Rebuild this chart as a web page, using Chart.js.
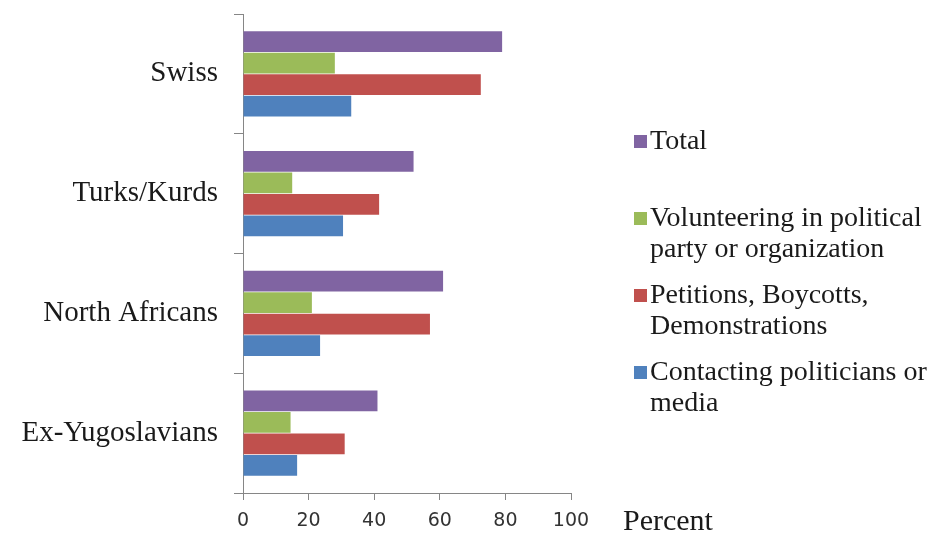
<!DOCTYPE html>
<html>
<head>
<meta charset="utf-8">
<script src="https://cdn.jsdelivr.net/npm/chart.js@4"></script>
<style>
  body { margin: 0; background: #fff; }
  canvas { display: block; }
</style>
</head>
<body>
<canvas id="chart" width="932" height="537"></canvas>
<script>
const categories = ['Swiss', 'Turks/Kurds', 'North Africans', 'Ex-Yugoslavians'];

const total        = [79, 52, 61, 41];
const volunteering = [28, 15, 21, 14.5];
const petitions    = [72.5, 41.5, 57, 31];
const contacting   = [33, 30.5, 23.5, 16.5];

const xTicks = [0, 20, 40, 60, 80, 100];

const seriesNames = [
    ['Total'],
    ['Volunteering in political', 'party or organization'],
    ['Petitions, Boycotts,', 'Demonstrations'],
    ['Contacting politicians or', 'media']
];
const xTitle = 'Percent';

const serif = '"Liberation Serif", "Times New Roman", serif';
const axisColor = '#868686';

// legend and axis title are drawn by hand so the legend can wrap like the original
const extrasPlugin = {
    id: 'extras',
    afterDraw(chart) {
        const ctx = chart.ctx;
        ctx.save();
        ctx.textBaseline = 'middle';
        ctx.textAlign = 'left';

        // axis title to the right of the last tick
        ctx.font = '30px ' + serif;
        ctx.fillStyle = '#1a1a1a';
        ctx.fillText(xTitle, 623, 522);

        ctx.font = '28px ' + serif;
        chart.data.datasets.forEach((ds, i) => {
            const y0 = 142 + i * 77;
            ctx.fillStyle = ds.backgroundColor;
            ctx.fillRect(634, y0 - 7, 13, 13);
            ctx.fillStyle = '#1a1a1a';
            seriesNames[i].forEach((line, j) => {
                ctx.fillText(line, 650, y0 + j * 31);
            });
        });
        ctx.restore();
    }
};

const ctx = document.getElementById('chart').getContext('2d');

new Chart(ctx, {
    type: 'bar',
    data: {
        labels: categories,
        datasets: [
            { label: seriesNames[0].join(' '), data: total,        backgroundColor: '#8064A2' },
            { label: seriesNames[1].join(' '), data: volunteering, backgroundColor: '#9BBB59' },
            { label: seriesNames[2].join(' '), data: petitions,    backgroundColor: '#C0504D' },
            { label: seriesNames[3].join(' '), data: contacting,   backgroundColor: '#4F81BD' }
        ]
    },
    options: {
        indexAxis: 'y',
        responsive: false,
        animation: false,
        datasets: {
            bar: {
                categoryPercentage: 0.72,
                barPercentage: 0.96
            }
        },
        layout: {
            padding: { top: 14, right: 361, bottom: 0, left: 0 }
        },
        plugins: {
            legend: { display: false },
            tooltip: { enabled: false }
        },
        scales: {
            x: {
                min: 0,
                max: 100,
                afterBuildTicks: scale => {
                    scale.ticks = xTicks.map(v => ({ value: v }));
                },
                afterFit: scale => {
                    scale.height = 44;
                    scale.paddingLeft = 0;
                    scale.paddingRight = 0;
                },
                border: { color: axisColor, width: 1 },
                grid: {
                    drawOnChartArea: false,
                    drawTicks: true,
                    tickLength: 7,
                    color: axisColor
                },
                ticks: {
                    color: '#333333',
                    padding: 10,
                    maxRotation: 0,
                    font: { family: '"DejaVu Sans", sans-serif', size: 19 }
                }
            },
            y: {
                afterFit: scale => {
                    scale.width = 243;
                    scale.paddingTop = 0;
                    scale.paddingBottom = 0;
                },
                border: { color: axisColor, width: 1 },
                grid: {
                    offset: true,
                    drawOnChartArea: false,
                    drawTicks: true,
                    tickLength: 9,
                    color: axisColor
                },
                ticks: {
                    color: '#1a1a1a',
                    padding: 16,
                    font: { family: serif, size: 29 }
                }
            }
        }
    },
    plugins: [extrasPlugin]
});
</script>
</body>
</html>
